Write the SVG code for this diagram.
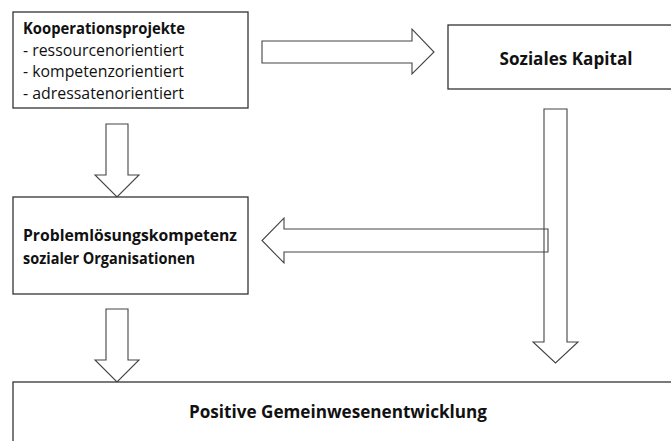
<svg xmlns="http://www.w3.org/2000/svg" width="671" height="441" viewBox="0 0 671 441">
<style>
.box{fill:#fff;stroke:#333;stroke-width:1.3}
.arr{fill:#fff;stroke:#444;stroke-width:1.1;stroke-linejoin:miter}
.t{font-family:"Open Sans","DejaVu Sans",sans-serif;fill:#111}
.b{font-weight:bold}
</style>
<rect width="671" height="441" fill="#fff"/>
<g id="connectors">
<path class="arr" d="M262,41 H412 V29 L434,52 L412,74 V63 H262 Z"/>
<path class="arr" d="M106,124 H128 V175 H139 L117,197 L95,175 H106 Z"/>
<path class="arr" d="M544,109 H567 V342 H578 L555.5,363 L533,342 H544 Z"/>
<path class="arr" style="fill:none" d="M548,229 V252 H284 V263 L262,240.5 L284,218 V229 Z"/>
<path class="arr" d="M106,309 H128 V360 H139 L117,382 L95,360 H106 Z"/>
</g>
<g id="kooperationsprojekte">
<rect class="box" x="13" y="12" width="235" height="96"/>
<text class="t b" x="23" y="34" font-size="16" textLength="162" lengthAdjust="spacingAndGlyphs">Kooperationsprojekte</text>
<text class="t" x="23" y="55.5" font-size="16" textLength="161" lengthAdjust="spacingAndGlyphs">- ressourcenorientiert</text>
<text class="t" x="23" y="77" font-size="16" textLength="161" lengthAdjust="spacingAndGlyphs">- kompetenzorientiert</text>
<text class="t" x="23" y="98.5" font-size="16" textLength="161" lengthAdjust="spacingAndGlyphs">- adressatenorientiert</text>
</g>
<g id="soziales-kapital">
<rect class="box" x="448" y="25" width="240" height="64"/>
<text class="t b" x="566" y="65" font-size="18" text-anchor="middle" textLength="133" lengthAdjust="spacingAndGlyphs">Soziales Kapital</text>
</g>
<g id="problemloesungskompetenz">
<rect class="box" x="13" y="197" width="235" height="97"/>
<text class="t b" x="23" y="241" font-size="16.5" textLength="214" lengthAdjust="spacingAndGlyphs">Problemlösungskompetenz</text>
<text class="t b" x="23" y="264" font-size="16.5" textLength="172" lengthAdjust="spacingAndGlyphs">sozialer Organisationen</text>
</g>
<g id="positive-gemeinwesenentwicklung">
<rect class="box" x="13" y="382" width="680" height="80"/>
<text class="t b" x="338" y="418" font-size="18" text-anchor="middle" textLength="298" lengthAdjust="spacingAndGlyphs">Positive Gemeinwesenentwicklung</text>
</g>
</svg>
